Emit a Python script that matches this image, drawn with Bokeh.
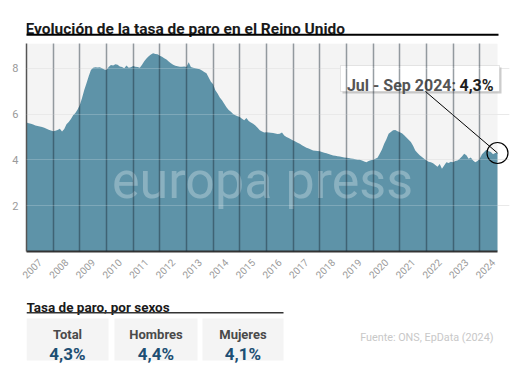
import numpy as np
from bokeh.plotting import figure
from bokeh.layouts import column
from bokeh.models import (Range1d, FixedTicker, Grid, Label, BoxAnnotation, Arrow,
                          ColumnDataSource, CustomJSTickFormatter)
from bokeh.embed import file_html
from bokeh.resources import INLINE
from bokeh.core.properties import value

# ---------------- data ----------------
TITLE = "Evolución de la tasa de paro en el Reino Unido"
START_YEAR = 2007  # monthly rolling three-month series, first value = Jan 2007

rate_2007 = [5.63, 5.60, 5.58, 5.54, 5.50, 5.48, 5.46, 5.43, 5.40, 5.36, 5.32, 5.28]
rate_2008 = [5.25, 5.27, 5.30, 5.36, 5.24, 5.35, 5.55, 5.65, 5.78, 5.95, 6.05, 6.20]
rate_2009 = [6.40, 6.70, 7.05, 7.35, 7.65, 7.92, 8.02, 8.04, 8.03, 8.04, 8.00, 7.95]
rate_2010 = [7.92, 8.05, 8.14, 8.12, 8.17, 8.15, 8.08, 8.05, 8.00, 8.12, 8.02, 8.04]
rate_2011 = [8.10, 8.06, 8.05, 8.02, 8.15, 8.30, 8.43, 8.52, 8.60, 8.65, 8.62, 8.61]
rate_2012 = [8.55, 8.50, 8.44, 8.38, 8.29, 8.22, 8.15, 8.11, 8.09, 8.07, 8.07, 8.08]
rate_2013 = [8.05, 8.26, 8.05, 8.02, 8.00, 7.98, 7.96, 7.90, 7.84, 7.78, 7.60, 7.41]
rate_2014 = [7.30, 7.04, 6.90, 6.72, 6.60, 6.45, 6.30, 6.18, 6.10, 6.00, 5.95, 5.90]
rate_2015 = [5.87, 5.80, 5.73, 5.83, 5.70, 5.63, 5.58, 5.50, 5.40, 5.29, 5.24, 5.19]
rate_2016 = [5.21, 5.19, 5.18, 5.17, 5.15, 5.13, 5.14, 5.20, 5.06, 5.00, 4.95, 4.90]
rate_2017 = [4.85, 4.80, 4.75, 4.70, 4.64, 4.58, 4.53, 4.50, 4.45, 4.41, 4.40, 4.39]
rate_2018 = [4.38, 4.34, 4.31, 4.29, 4.26, 4.22, 4.19, 4.18, 4.16, 4.15, 4.12, 4.10]
rate_2019 = [4.09, 4.08, 4.06, 4.05, 4.03, 4.01, 4.00, 3.97, 3.93, 3.90, 3.95, 3.98]
rate_2020 = [4.00, 4.05, 4.09, 4.27, 4.45, 4.70, 4.90, 5.14, 5.22, 5.29, 5.30, 5.25]
rate_2021 = [5.21, 5.16, 5.07, 4.98, 4.88, 4.78, 4.62, 4.41, 4.30, 4.20, 4.12, 4.05]
rate_2022 = [3.97, 3.92, 3.90, 3.85, 3.78, 3.70, 3.82, 3.61, 3.75, 3.90, 3.86, 3.92]
rate_2023 = [3.90, 3.95, 3.97, 4.05, 4.15, 4.27, 4.20, 4.05, 4.10, 3.97, 3.90, 3.95]
rate_2024 = [4.05, 4.25, 4.34, 4.44, 4.38, 4.34, 4.25, 4.30, 4.30]

years = list(range(2007, 2025))
y_ticks = [2, 4, 6, 8]

last_period = "Jul - Sep 2024:"
last_value = "4,3%"

subtitle = "Tasa de paro, por sexos"
sex_labels = ["Total", "Hombres", "Mujeres"]
sex_values = ["4,3%", "4,4%", "4,1%"]
source_note = "Fuente: ONS, EpData (2024)"

rates = (rate_2007 + rate_2008 + rate_2009 + rate_2010 + rate_2011 + rate_2012 +
         rate_2013 + rate_2014 + rate_2015 + rate_2016 + rate_2017 + rate_2018 +
         rate_2019 + rate_2020 + rate_2021 + rate_2022 + rate_2023 + rate_2024)
xs = [START_YEAR + i / 12 for i in range(len(rates))]

FONT = "Roboto"
W = 510
BL, BR = 26, 1              # identical side borders for every panel
FRAME_L, FRAME_R = 26, 509  # page x of the shared frame

def helper(height, top, bottom):
    f = figure(width=W, height=height, x_range=Range1d(FRAME_L, FRAME_R),
               y_range=Range1d(bottom, top), output_backend="svg", toolbar_location=None,
               x_axis_location=None, y_axis_location=None, min_border_left=BL,
               min_border_right=BR, min_border_top=0, min_border_bottom=0)
    f.outline_line_color = None
    f.grid.visible = False
    return f

# ---------------- top: title ----------------
t = helper(43, 0, 43)
t.text(x=[25], y=[28.5], text=[TITLE], text_font=value(FONT), text_font_size="15.5px",
       text_font_style="bold", text_color="#1a1a1a", text_baseline="alphabetic")
t.segment(x0=[25], y0=[34.3], x1=[498], y1=[34.3], line_color="black", line_width=2)

# ---------------- main chart ----------------
PX_PER_YEAR = 26.66
DATA_END = 2024.67
X_END = START_YEAR + (FRAME_R - FRAME_L) / PX_PER_YEAR
Y_END = 9.08
p = figure(width=W, height=247, x_range=Range1d(START_YEAR, X_END), y_range=Range1d(0, Y_END),
           output_backend="svg", toolbar_location=None,
           min_border_left=BL, min_border_right=BR, min_border_top=0, min_border_bottom=39)
p.background_fill_color = "white"
p.border_fill_color = "white"
p.outline_line_color = None

p.add_layout(BoxAnnotation(left=START_YEAR, right=DATA_END, fill_color="#f4f4f4",
                           fill_alpha=1, line_color=None, level="image"))

src = ColumnDataSource(dict(x=xs, y=rates))
p.varea(x="x", y1=0, y2="y", source=src, fill_color="#5e93a8")

p.ygrid.ticker = FixedTicker(ticks=y_ticks)
p.ygrid.grid_line_color = "#e4e4e4"
p.ygrid.grid_line_width = 1
overlay_grid = Grid(dimension=1, ticker=FixedTicker(ticks=y_ticks), grid_line_color="white",
                    grid_line_alpha=0.2, grid_line_width=1, level="overlay")
p.add_layout(overlay_grid)

p.xgrid.ticker = FixedTicker(ticks=years)
p.xgrid.grid_line_color = "#1a2a35"
p.xgrid.grid_line_alpha = 0.45
p.xgrid.grid_line_width = 1.5
p.xgrid.level = "overlay"

p.yaxis.ticker = FixedTicker(ticks=y_ticks)
p.yaxis.major_tick_line_color = None
p.yaxis.minor_tick_line_color = None
p.yaxis.major_tick_out = 0
p.yaxis.major_tick_in = 0
p.yaxis.axis_line_color = "#555555"
p.yaxis.axis_line_width = 1.5
p.yaxis.major_label_text_color = "#9a9a9a"
p.yaxis.major_label_text_font = FONT
p.yaxis.major_label_text_font_size = "11px"
p.yaxis.major_label_standoff = 8

p.xaxis.ticker = FixedTicker(ticks=[y + 0.5 for y in years])
p.xaxis.formatter = CustomJSTickFormatter(code="return Math.floor(tick).toString()")
p.xaxis.bounds = (START_YEAR, DATA_END)
p.xaxis.major_label_orientation = np.pi / 4
p.xaxis.major_tick_line_color = None
p.xaxis.minor_tick_line_color = None
p.xaxis.major_tick_out = 0
p.xaxis.major_tick_in = 0
p.xaxis.axis_line_color = "#333333"
p.xaxis.axis_line_width = 2
p.xaxis.major_label_text_color = "#9a9a9a"
p.xaxis.major_label_text_font = FONT
p.xaxis.major_label_text_font_size = "10px"
p.xaxis.major_label_standoff = 9

# watermark
p.add_layout(Label(x=236, y=71, x_units="screen", y_units="screen", text="europa press",
                   text_align="center", text_baseline="alphabetic", text_font=FONT,
                   text_font_size="52px", text_color="white", text_alpha=0.28))

# callout box
p.add_layout(BoxAnnotation(left=316, right=475, bottom=158, top=184, left_units="screen",
                           right_units="screen", bottom_units="screen", top_units="screen",
                           fill_color="#999999", fill_alpha=0.5, line_color=None))
p.add_layout(BoxAnnotation(left=314, right=473, bottom=160, top=186, left_units="screen",
                           right_units="screen", bottom_units="screen", top_units="screen",
                           fill_color="white", fill_alpha=1, line_color="#b0b0b0", line_width=1))
p.add_layout(Label(x=429.5, y=166.3, x_units="screen", y_units="screen", text=last_period,
                   text_align="right", text_baseline="alphabetic", text_font=FONT,
                   text_font_size="16px", text_font_style="bold", text_color="#555555"))
p.add_layout(Label(x=433, y=166.3, x_units="screen", y_units="screen", text=last_value,
                   text_align="left", text_baseline="alphabetic", text_font=FONT,
                   text_font_size="16px", text_font_style="bold", text_color="#1e1e1e"))

# connector and circle
p.add_layout(Arrow(end=None, x_start=399, y_start=160, start_units="screen",
                   x_end=xs[-1], y_end=rates[-1], end_units="data",
                   line_color="black", line_width=1))
p.scatter(x=[xs[-1]], y=[rates[-1]], size=21, marker="circle", fill_color=None,
          line_color="black", line_width=1.2)

# ---------------- bottom panel ----------------
b = helper(75, 290, 365)
b.text(x=[26], y=[306], text=[subtitle], text_font=value(FONT), text_font_size="13.5px",
       text_font_style="bold", text_color="#1a1a1a", text_baseline="alphabetic")
b.segment(x0=[26], y0=[312.3], x1=[283], y1=[312.3], line_color="#333333", line_width=1.5)
box_left = [26, 114, 202]
box_right = [108, 197, 283]
b.quad(left=box_left, right=box_right, top=318, bottom=360, fill_color="#f4f4f4", line_color=None)
centers = [(l + r) / 2 for l, r in zip(box_left, box_right)]
b.text(x=centers, y=[334] * 3, text=sex_labels, text_font=value(FONT), text_font_size="13px",
       text_font_style="bold", text_color="#4a4a4a", text_align="center", text_baseline="alphabetic")
b.text(x=centers, y=[353] * 3, text=sex_values, text_font=value(FONT), text_font_size="17px",
       text_font_style="bold", text_color="#1d4f73", text_align="center", text_baseline="alphabetic")
b.text(x=[493], y=[337], text=[source_note], text_font=value(FONT), text_font_size="10.8px",
       text_color="#c8c8c8", text_align="right", text_baseline="alphabetic")

layout = column(t, p, b, spacing=0)
open("out.html", "w").write(file_html(layout, INLINE))
